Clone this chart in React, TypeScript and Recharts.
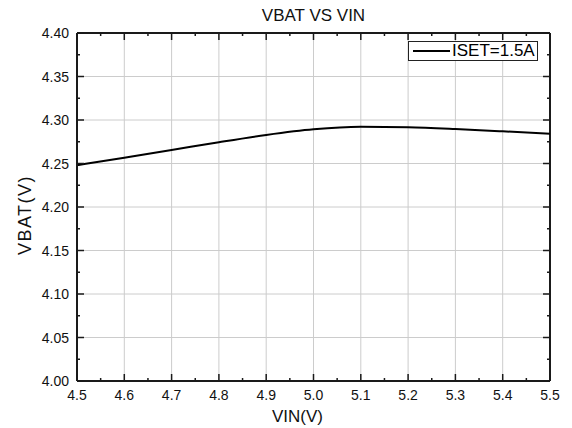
import React from "react";
import { LineChart, Line, XAxis, YAxis, CartesianGrid, ReferenceLine } from "recharts";

const vin = [4.5, 4.6, 4.7, 4.8, 4.9, 5.0, 5.1, 5.2, 5.3, 5.4, 5.5];
const vbat = [4.248, 4.2567, 4.2655, 4.2745, 4.2828, 4.2893, 4.2922, 4.2916, 4.2896, 4.287, 4.2842];

const xTicks = [4.5, 4.6, 4.7, 4.8, 4.9, 5.0, 5.1, 5.2, 5.3, 5.4, 5.5];
const xMinor = [4.55, 4.65, 4.75, 4.85, 4.95, 5.05, 5.15, 5.25, 5.35, 5.45];
const yTicks = [4.0, 4.05, 4.1, 4.15, 4.2, 4.25, 4.3, 4.35, 4.4];
const yMinor = [4.025, 4.075, 4.125, 4.175, 4.225, 4.275, 4.325, 4.375];
const X_DOMAIN = [4.5, 5.5];
const Y_DOMAIN = [4.0, 4.4];

const data = vin.map((v, i) => ({ vin: v, vbat: vbat[i] }));
const allX = [...xTicks, ...xMinor].sort((a, b) => a - b);
const allY = [...yTicks, ...yMinor].sort((a, b) => a - b);

const W = 572;
const H = 428;
const M = { top: 33, right: 22, bottom: 0, left: 0 };
const PLOT_TOP = M.top;
const PLOT_RIGHT = W - M.right;

const FONT = '"Liberation Sans", Arial, sans-serif';
const AX = "#1a1a1a";
const TXT = "#111";

const isMajorX = (v: number) => xTicks.some((t) => Math.abs(t - v) < 1e-6);
const isMajorY = (v: number) => yTicks.some((t) => Math.abs(t - v) < 1e-6);

// bottom axis tick: inward tick at bottom and mirrored one at the top frame
function BottomTick(props: any) {
  const { x, y, payload } = props;
  const major = isMajorX(payload.value);
  const len = major ? 7 : 3;
  return (
    <g>
      <line x1={x} x2={x} y1={y} y2={y - len} stroke={AX} strokeWidth={1.5} />
      <line x1={x} x2={x} y1={PLOT_TOP} y2={PLOT_TOP + len} stroke={AX} strokeWidth={1.5} />
      {major && (
        <text x={x} y={y + 19} textAnchor="middle" fill={TXT} fontSize={14} fontFamily={FONT}>
          {payload.value.toFixed(1)}
        </text>
      )}
    </g>
  );
}

function LeftTick(props: any) {
  const { x, y, payload } = props;
  const major = isMajorY(payload.value);
  const len = major ? 7 : 3;
  return (
    <g>
      <line x1={x} x2={x + len} y1={y} y2={y} stroke={AX} strokeWidth={1.5} />
      <line x1={PLOT_RIGHT} x2={PLOT_RIGHT - len} y1={y} y2={y} stroke={AX} strokeWidth={1.5} />
      {major && (
        <text x={x - 8} y={y + 5} textAnchor="end" fill={TXT} fontSize={14} fontFamily={FONT}>
          {payload.value.toFixed(2)}
        </text>
      )}
    </g>
  );
}

const gridX = ({ xAxis, offset }: any) =>
  xTicks.map((v) =>
    xAxis && typeof xAxis.scale === "function"
      ? xAxis.scale(v)
      : offset.left + ((v - X_DOMAIN[0]) / (X_DOMAIN[1] - X_DOMAIN[0])) * offset.width
  );
const gridY = ({ yAxis, offset }: any) =>
  yTicks.map((v) =>
    yAxis && typeof yAxis.scale === "function"
      ? yAxis.scale(v)
      : offset.top + offset.height - ((v - Y_DOMAIN[0]) / (Y_DOMAIN[1] - Y_DOMAIN[0])) * offset.height
  );

function LegendBox(): JSX.Element {
  return (
    <div
      style={{
        position: "absolute",
        left: 408,
        top: 41,
        width: 130,
        height: 20,
        border: "1px solid #222",
        background: "#fff",
        display: "flex",
        alignItems: "center",
        padding: "0 0 0 4px",
        fontSize: 17,
        color: "#000",
        fontFamily: FONT,
        boxSizing: "border-box",
        whiteSpace: "nowrap",
      }}
    >
      <svg width={37} height={10} style={{ marginRight: 2 }}>
        <line x1={0} y1={5} x2={37} y2={5} stroke="#000" strokeWidth={2} />
      </svg>
      ISET=1.5A
    </div>
  );
}

export default function App(): JSX.Element {
  return (
    <div style={{ position: "absolute", left: 0, top: 0, width: W, height: H, background: "#fff", fontFamily: FONT }}>
      <div
        style={{
          position: "absolute",
          left: 77,
          width: 473,
          top: 6,
          textAlign: "center",
          fontSize: 17,
          color: TXT,
        }}
      >
        VBAT VS VIN
      </div>
      <LineChart width={W} height={H} data={data} margin={M}>
        <CartesianGrid
          stroke="#cccccc"
          strokeWidth={1}
          verticalCoordinatesGenerator={gridX}
          horizontalCoordinatesGenerator={gridY}
        />
        <XAxis
          dataKey="vin"
          type="number"
          domain={X_DOMAIN}
          ticks={allX}
          interval={0}
          height={47}
          tickSize={0}
          tickMargin={0}
          tickLine={false}
          tick={(p: any) => <BottomTick {...p} />}
          axisLine={{ stroke: AX, strokeWidth: 2 }}
          label={{ value: "VIN(V)", position: "insideBottom", offset: 6, dx: -16, fill: TXT, fontSize: 17, fontFamily: FONT }}
        />
        <YAxis
          type="number"
          domain={Y_DOMAIN}
          ticks={allY}
          interval={0}
          width={77}
          tickSize={0}
          tickMargin={0}
          tickLine={false}
          tick={(p: any) => <LeftTick {...p} />}
          axisLine={{ stroke: AX, strokeWidth: 2 }}
          label={{
            value: "VBAT(V)",
            angle: -90,
            position: "insideLeft",
            offset: 25,
            dy: 8,
            fill: TXT,
            fontSize: 18,
            fontFamily: FONT,
            style: { textAnchor: "middle", letterSpacing: 1.5 },
          }}
        />
        <ReferenceLine y={Y_DOMAIN[1]} stroke={AX} strokeWidth={2} />
        <ReferenceLine x={X_DOMAIN[1]} stroke={AX} strokeWidth={2} />
        <Line
          type="monotone"
          dataKey="vbat"
          name="ISET=1.5A"
          stroke="#000"
          strokeWidth={2}
          dot={false}
          isAnimationActive={false}
        />
      </LineChart>
      <LegendBox />
    </div>
  );
}
